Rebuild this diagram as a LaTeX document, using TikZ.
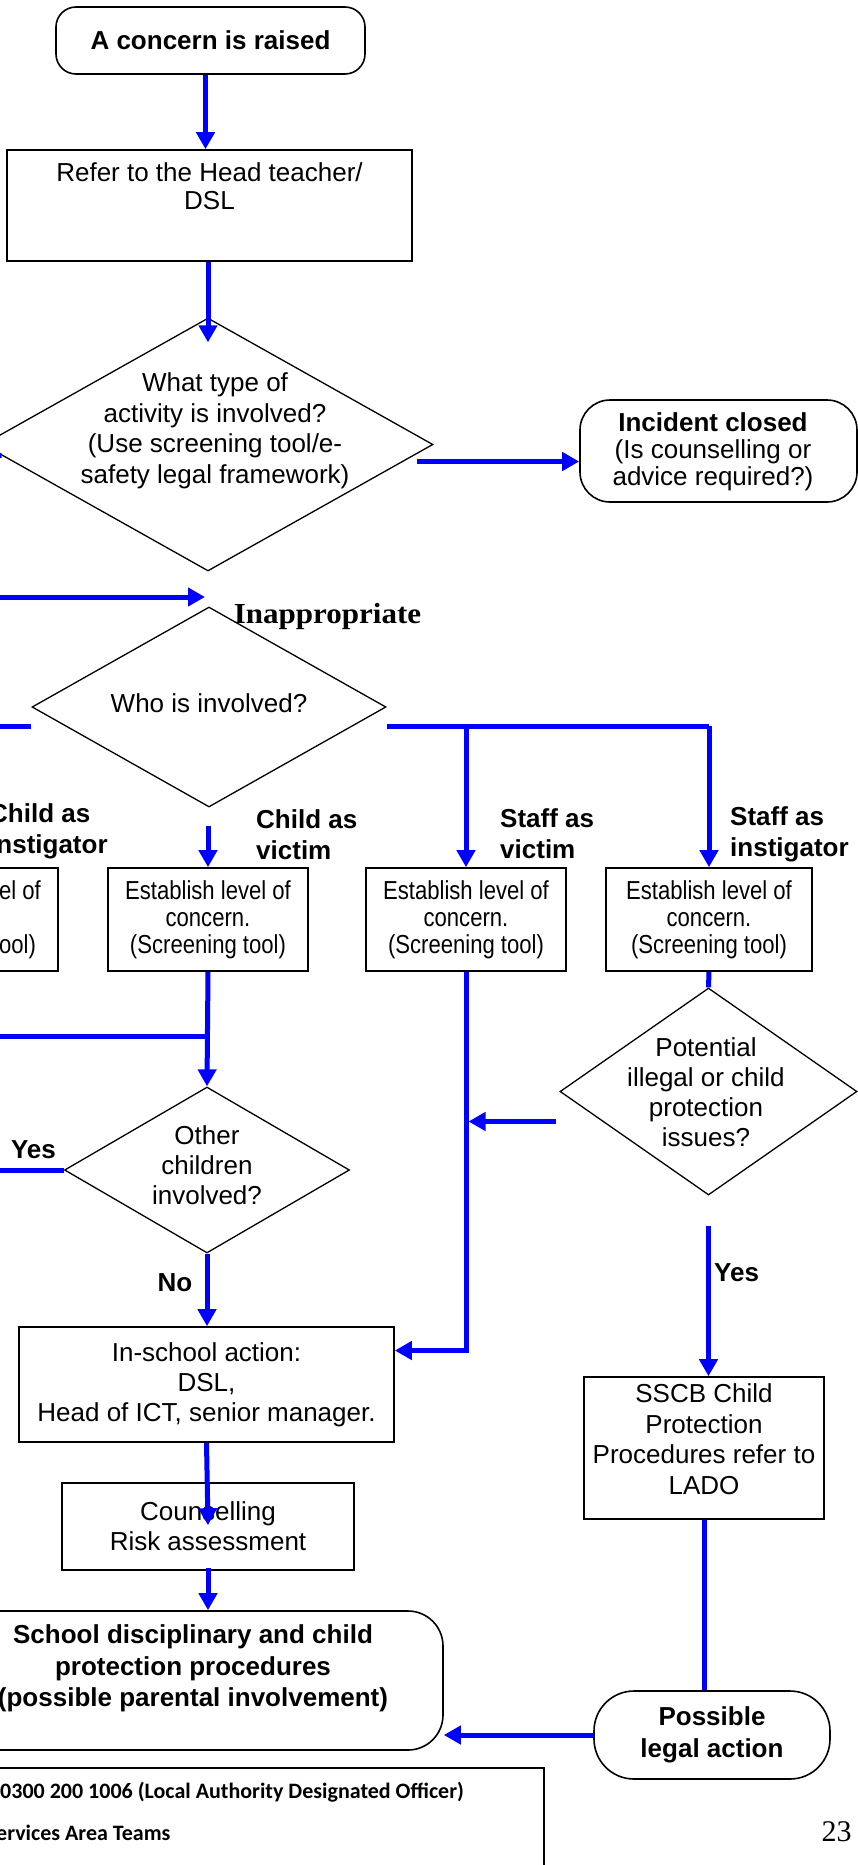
\documentclass[tikz,border=0pt]{standalone}
\usepackage{fontspec}
\setmainfont{Liberation Sans}
\newfontfamily\narrowfont[FakeStretch=0.85]{Liberation Sans}
\newfontfamily\inapfont[FakeStretch=1.07]{Liberation Serif}
\newfontfamily\carlitofont{Carlito}
\newfontfamily\timesfont{Liberation Serif}
\usetikzlibrary{shapes.geometric,arrows.meta,calc}
\pgfdeclarelayer{bg}
\pgfsetlayers{bg,main}
\tikzset{
  every node/.style={font=\fontsize{26}{30}\selectfont, inner sep=0pt, align=center},
  boxn/.style={draw=black, line width=1.6pt, rectangle, fill=white},
  dia/.style={draw=black, diamond, line width=1.3pt, fill=white, inner sep=0pt},
  conn/.style={draw={rgb,255:red,0;green,0;blue,255}, line width=5pt},
  arr/.style={conn, -{Triangle[length=17pt,width=18pt]}},
  lbl/.style={font=\fontsize{26}{31}\bfseries\selectfont, align=left, anchor=west},
  estbox/.style={boxn, minimum width=200pt, minimum height=103pt, font=\narrowfont\fontsize{26}{27}\selectfont},
}
\begin{document}
\begin{tikzpicture}[x=1pt,y=-1pt]
\useasboundingbox (0,0) rectangle (858,1865);
\clip (0,0) rectangle (858,1865);
\fill[white] (0,0) rectangle (858,1865);

% nodes
\node[boxn, rounded corners=20pt, minimum width=309pt, minimum height=67pt, font=\fontsize{26}{30}\bfseries\selectfont] (concern) at (210.5,40.5) {A concern is raised};
\node[boxn, minimum width=405pt, minimum height=111pt] (refer) at (209.5,205.5) {};
\node[font=\fontsize{26}{28}\selectfont] (refertxt) at (209.5,186) {Refer to the Head teacher/\\DSL};

\node[dia, minimum width=450pt, minimum height=253pt] (d1) at (208,444.5) {};
\node[font=\fontsize{26}{30.5}\selectfont] (d1txt) at (215,431) {What type of\\activity is involved?\\(Use screening tool/e-\\safety legal framework)};

\node[boxn, rounded corners=30pt, minimum width=277pt, minimum height=102pt] (incident) at (718.5,451) {};
\node[font=\fontsize{26}{27}\selectfont] (inctxt) at (713,451.5) {\textbf{Incident closed}\\(Is counselling or\\advice required?)};

\node[dia, minimum width=354pt, minimum height=200pt] (d2) at (209,707) {};
\node (d2txt) at (209,703) {Who is involved?};
\node[font=\inapfont\bfseries\fontsize{29}{30}\selectfont] (inap) at (327.5,617) {Inappropriate};

\node[lbl] (lci) at (-11,831) {Child as\\instigator};
\node[lbl] (lcv) at (256,835) {Child as\\victim};
\node[lbl] (lsv) at (500,834) {Staff as\\victim};
\node[lbl] (lsi) at (730,834) {Staff as\\instigator};

\node[estbox] (box1) at (-42,919.5) {Establish level of\\concern.\\(Screening tool)};
\node[estbox] (box2) at (208,919.5) {Establish level of\\concern.\\(Screening tool)};
\node[estbox] (box3) at (466,919.5) {Establish level of\\concern.\\(Screening tool)};
\node[estbox, minimum width=206pt] (box4) at (709,919.5) {Establish level of\\concern.\\(Screening tool)};

\node[dia, minimum width=285pt, minimum height=166pt] (d3) at (207,1170) {};
\node (d3txt) at (207,1165) {Other\\children\\involved?};

\node[dia, minimum width=297pt, minimum height=207pt] (d4) at (708.5,1091.5) {};
\node (d4txt) at (706,1092.5) {Potential\\illegal or child\\protection\\issues?};

\node[boxn, minimum width=375pt, minimum height=115pt] (inschool) at (206.5,1384.5) {In-school action:\\DSL,\\Head of ICT, senior manager.};
\node[boxn, minimum width=292pt, minimum height=87pt] (counsel) at (208,1526.5) {Counselling\\Risk assessment};

\node[boxn, minimum width=240pt, minimum height=142pt] (sscb) at (704,1448) {};
\node[font=\fontsize{26}{30.5}\selectfont] (sscbtxt) at (704,1439) {SSCB Child\\Protection\\Procedures refer to\\LADO};

\node[boxn, rounded corners=35pt, minimum width=500pt, minimum height=139pt] (school) at (193,1680.5) {};
\node[font=\fontsize{26}{31.5}\bfseries\selectfont] (schooltxt) at (193,1668.5) {School disciplinary and child\\protection procedures\\(possible parental involvement)};

\node[boxn, rounded corners=40pt, minimum width=236pt, minimum height=88pt, font=\fontsize{26}{32}\bfseries\selectfont] (legal) at (712,1735) {Possible\\legal action};

\node[boxn, anchor=north east, minimum width=600pt, minimum height=200pt] (footer) at (545,1767) {};
\node[font=\carlitofont\bfseries\fontsize{22}{26}\selectfont, anchor=west] (ft1) at (0,1792) {0300 200 1006 (Local Authority Designated Officer)};
\node[font=\carlitofont\bfseries\fontsize{22}{26}\selectfont, anchor=west] (ft2) at (-4,1833) {ervices Area Teams};
\node[font=\timesfont\fontsize{30}{32}\selectfont] (pg) at (836.5,1832) {23};

% labels
\node[lbl, anchor=center] (yes1) at (33.5,1150) {Yes};
\node[lbl, anchor=center] (no1) at (175,1283) {No};
\node[lbl] (yes2) at (714,1273) {Yes};

% free-end and bend coordinates
\coordinate (offA) at (-60,457);
\coordinate (offB) at (-60,597);
\coordinate (offC) at (-60,726);
\coordinate (offD) at (-60,1036);
\coordinate (offE) at (-60,1170);
\coordinate (p1) at ($(d1.east)+(-17,17)$);
\coordinate (p2) at ($(d1.north)+(0,25)$);
\coordinate (p3) at ($(offB -| d1.south)+(-3,0)$);
\coordinate (p4) at ($(d2.east)+(0,19)$);
\coordinate (p5) at ($(box2.north)+(0,-41)$);
\coordinate (p6) at ($(inschool.east)+(0,-34)$);
\coordinate (p7) at ($(d4.west)+(-3,30)$);
\coordinate (p8) at ($(box3.south |- d4.west)+(2.5,30)$);
\coordinate (p9) at ($(d4.south)+(0,30)$);
\coordinate (p10) at ($(counsel.north)+(0,43)$);
\coordinate (p11) at ($(counsel.south)+(0,-3)$);
\coordinate (p12) at ([xshift=-5pt]concern.south);

% connectors
\begin{pgfonlayer}{bg}
\draw[conn] (d1.south) -- (d2.north);
\end{pgfonlayer}
\draw[arr] (p12) -- (p12 |- refer.north);
\draw[arr] (refer.south -| d1.north) -- (p2);
\draw[arr] (p1) -- (p1 -| incident.west);
\draw[conn] (offA) -- (d1.183.5);
\draw[arr] (offB) -- (p3);
\draw[conn] (offC) -- (offC -| d2.west);
\draw[conn] (p4) -- (p4 -| box4.north);
\draw[arr] (p4 -| box3.north) -- (box3.north);
\draw[arr] (p4 -| box4.north) -- (box4.north);
\draw[arr] (p5) -- (box2.north);
\draw[arr] (box2.south) -- (d3.north);
\draw[conn] (offD) -- (offD -| box2.south);
\draw[conn] (offE) -- (d3.west);
\draw[arr] (d3.south) -- (d3.south |- inschool.north);
\draw[arr] (box3.south) |- (p6);
\draw[conn] (box4.south) -- (d4.north);
\draw[arr] (p7) -- (p8);
\draw[arr] (p9) -- (p9 |- sscb.north);
\draw[arr] (inschool.south) -- (p10);
\draw[arr] (p11) -- (p11 |- school.north);
\draw[conn] (sscb.south) -- (sscb.south |- legal.north);
\draw[arr] (legal.west) -- (legal.west -| school.east);
\end{tikzpicture}
\end{document}
